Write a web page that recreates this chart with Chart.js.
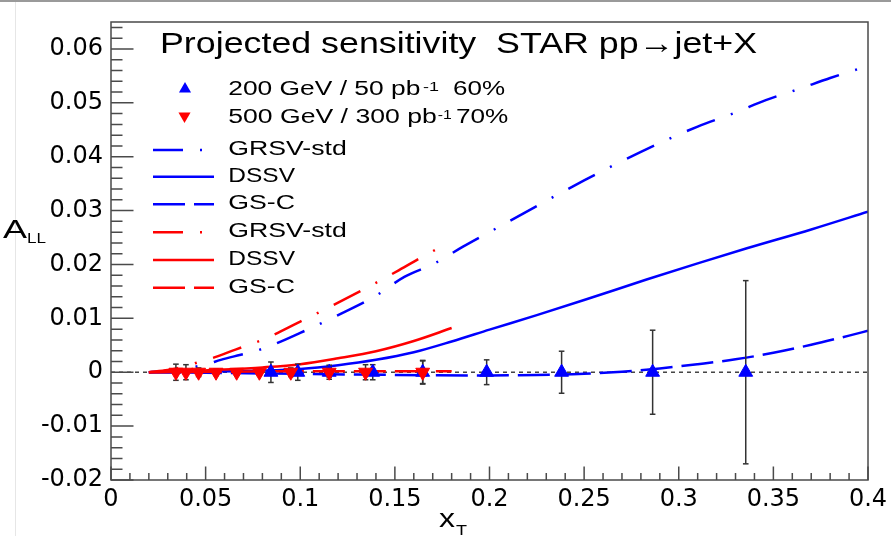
<!DOCTYPE html>
<html>
<head>
<meta charset="utf-8">
<script src="https://cdn.jsdelivr.net/npm/chart.js@4.4.1/dist/chart.umd.min.js"></script>
<style>
html,body{margin:0;padding:0;background:#fff;}
canvas{display:block;}
</style>
</head>
<body>
<canvas id="c" width="891" height="536"></canvas>
<script>
// ---------------- data ----------------
const titleText = 'Projected sensitivity  STAR pp\u2192jet+X';
const yTitleMain = 'A', yTitleSub = 'LL';
const xTitleMain = 'x', xTitleSub = 'T';

const xTickValues = [0, 0.05, 0.1, 0.15, 0.2, 0.25, 0.3, 0.35, 0.4];
const xTickLabels = ['0', '0.05', '0.1', '0.15', '0.2', '0.25', '0.3', '0.35', '0.4'];
const yTickValues = [-0.02, -0.01, 0, 0.01, 0.02, 0.03, 0.04, 0.05, 0.06];
const yTickLabels = ['-0.02', '-0.01', '0', '0.01', '0.02', '0.03', '0.04', '0.05', '0.06'];

// projected data points: 200 GeV / 50 pb^-1 (blue, up triangles)
const pts200X   = [0.0845, 0.0987, 0.1153, 0.1383, 0.1647, 0.1985, 0.2381, 0.2862, 0.3354];
const pts200Y   = [0, 0, 0, 0, 0, 0, 0, 0, 0];
const pts200Err = [0.0019, 0.0015, 0.0013, 0.0014, 0.0022, 0.0023, 0.0039, 0.0078, 0.0170];

// projected data points: 500 GeV / 300 pb^-1 (red, down triangles)
const pts500X   = [0.0343, 0.0396, 0.0463, 0.0555, 0.0664, 0.0784, 0.0950, 0.1153, 0.1345, 0.1647];
const pts500Y   = [0, 0, 0, 0, 0, 0, 0, 0, 0, 0];
const pts500Err = [0.0015, 0.0014, 0.0008, 0.0006, 0.0006, 0.0006, 0.0008, 0.0009, 0.0014, 0.0021];

// theory curves, 200 GeV (blue)
const grsvBlueX = [0.02, 0.03, 0.04, 0.05, 0.058, 0.068, 0.076, 0.085, 0.1, 0.12, 0.14, 0.155, 0.171, 0.186, 0.202, 0.218, 0.25, 0.28, 0.31, 0.33, 0.346, 0.363, 0.38, 0.397, 0.4];
const grsvBlueY = [0, 0.0003, 0.0008, 0.0014, 0.0023, 0.0032, 0.0039, 0.0050, 0.0073, 0.0106, 0.0142, 0.0177, 0.0202, 0.0233, 0.0264, 0.0295, 0.0356, 0.0409, 0.0456, 0.0482, 0.0505, 0.0525, 0.0546, 0.0565, 0.0568];
const dssvBlueX = [0.02, 0.05, 0.08, 0.1, 0.12, 0.14, 0.16, 0.18, 0.2, 0.225, 0.25, 0.283, 0.31, 0.336, 0.37, 0.4];
const dssvBlueY = [0, 0.0001, 0.0003, 0.0006, 0.0013, 0.0023, 0.0037, 0.0057, 0.0079, 0.0106, 0.0134, 0.0172, 0.0202, 0.0230, 0.0265, 0.0298];
const gscBlueX  = [0.02, 0.05, 0.1, 0.15, 0.2, 0.225, 0.25, 0.27, 0.29, 0.31, 0.33, 0.35, 0.37, 0.39, 0.4];
const gscBlueY  = [0, -0.0001, -0.0003, -0.0005, -0.0006, -0.0005, -0.0003, 0.0001, 0.0007, 0.0015, 0.0024, 0.0036, 0.0051, 0.0068, 0.0077];

// theory curves, 500 GeV (red)
const grsvRedX = [0.02, 0.03, 0.04, 0.0465, 0.055, 0.065, 0.072, 0.08, 0.1, 0.12, 0.14, 0.152, 0.166, 0.175];
const grsvRedY = [0, 0.0004, 0.0012, 0.0019, 0.0028, 0.0041, 0.0050, 0.0060, 0.0094, 0.0129, 0.0166, 0.0189, 0.0217, 0.0234];
const dssvRedX = [0.02, 0.04, 0.06, 0.08, 0.1, 0.12, 0.14, 0.16, 0.18];
const dssvRedY = [0, 0.0002, 0.0005, 0.0009, 0.0015, 0.0026, 0.0039, 0.0058, 0.0082];
const gscRedX  = [0.02, 0.06, 0.1, 0.14, 0.18];
const gscRedY  = [0, 0.0001, 0.0002, 0.0002, 0.0002];

const zeroLineX = [0, 0.4];
const zeroLineY = [0, 0];

const markerLegend = [
  {main: '200 GeV / 50 pb', sup: '-1', tail: '60%'},
  {main: '500 GeV / 300 pb', sup: '-1', tail: '70%'}
];
const curveLegendLabels = ['GRSV-std', 'DSSV', 'GS-C', 'GRSV-std', 'DSSV', 'GS-C'];

// ---------------- styles ----------------
const BLUE = '#0000ff', RED = '#ff0000', FRAME = '#4a4a4a', ERR = '#333333';
const DASHDOT = [30, 17, 2, 17];
const DASHED = [32, 9];
const SOLID = [];
const LW = 2.5;
const TXT = '"Liberation Sans", Arial, Helvetica, sans-serif';

const zip = (xs, ys) => xs.map((x, i) => ({x: x, y: ys[i]}));
function errData(xs, ys, es) {
  const out = [];
  xs.forEach((x, i) => {
    out.push({x: x, y: ys[i] - es[i]}, {x: x, y: ys[i] + es[i]}, {x: x, y: null});
  });
  return out;
}
function curve(label, xs, ys, color, dash, order) {
  return {
    label: label, data: zip(xs, ys), borderColor: color, backgroundColor: color,
    borderWidth: LW, borderDash: dash, pointRadius: 0, fill: false,
    cubicInterpolationMode: 'monotone', order: order
  };
}

const datasets = [
  { label: '500 GeV / 300 pb-1 70%', data: zip(pts500X, pts500Y), showLine: false,
    pointStyle: 'triangle', rotation: 180, pointRadius: 8, pointBackgroundColor: RED,
    pointBorderColor: RED, pointBorderWidth: 1, order: 0 },
  { label: '200 GeV / 50 pb-1 60%', data: zip(pts200X, pts200Y), showLine: false,
    pointStyle: 'triangle', pointRadius: 8, pointBackgroundColor: BLUE,
    pointBorderColor: BLUE, pointBorderWidth: 1, order: 1 },
  { label: 'err500', data: errData(pts500X, pts500Y, pts500Err), borderColor: ERR, borderWidth: 1.5,
    spanGaps: false, pointStyle: 'line', pointRadius: 2.8, pointBorderColor: ERR, pointBorderWidth: 1.5, order: 2 },
  { label: 'err200', data: errData(pts200X, pts200Y, pts200Err), borderColor: ERR, borderWidth: 1.5,
    spanGaps: false, pointStyle: 'line', pointRadius: 2.8, pointBorderColor: ERR, pointBorderWidth: 1.5, order: 3 },
  curve('GRSV-std (500)', grsvRedX, grsvRedY, RED, DASHDOT, 4),
  curve('DSSV (500)', dssvRedX, dssvRedY, RED, SOLID, 5),
  curve('GS-C (500)', gscRedX, gscRedY, RED, DASHED, 6),
  curve('GRSV-std (200)', grsvBlueX, grsvBlueY, BLUE, DASHDOT, 7),
  curve('DSSV (200)', dssvBlueX, dssvBlueY, BLUE, SOLID, 8),
  curve('GS-C (200)', gscBlueX, gscBlueY, BLUE, DASHED, 9),
  { label: 'zero', data: zip(zeroLineX, zeroLineY), borderColor: '#444444', borderWidth: 1.5,
    borderDash: [4, 4], pointRadius: 0, order: 10 }
];
// legend order of the curve datasets (indices into datasets)
const curveLegendIdx = [7, 8, 9, 4, 5, 6];

// ---------------- drawing helpers ----------------
function fitText(ctx, txt, x, y, size, width) {
  ctx.save();
  ctx.font = size + 'px ' + TXT;
  ctx.textBaseline = 'alphabetic';
  ctx.textAlign = 'left';
  const w = ctx.measureText(txt).width;
  const sx = width ? width / w : 1;
  ctx.translate(x, y);
  ctx.scale(sx, 1);
  ctx.fillStyle = '#000';
  ctx.fillText(txt, 0, 0);
  ctx.restore();
}
function tri(ctx, x, y, r, color, down) {
  ctx.save();
  ctx.fillStyle = color;
  ctx.beginPath();
  const s = down ? -1 : 1;
  ctx.moveTo(x, y - s * r);
  ctx.lineTo(x + r * 0.866, y + s * r * 0.5);
  ctx.lineTo(x - r * 0.866, y + s * r * 0.5);
  ctx.closePath();
  ctx.fill();
  ctx.restore();
}

const framePlugin = {
  id: 'frame',
  beforeDraw(chart) {
    const ctx = chart.ctx;
    ctx.save();
    ctx.fillStyle = '#fff';
    ctx.fillRect(0, 0, chart.width, chart.height);
    ctx.strokeStyle = '#9a9a9a';
    ctx.lineWidth = 2;
    ctx.beginPath(); ctx.moveTo(0, 1); ctx.lineTo(chart.width, 1); ctx.stroke();
    ctx.strokeStyle = '#e6e6e6';
    ctx.lineWidth = 1;
    ctx.beginPath(); ctx.moveTo(15.5, 2); ctx.lineTo(15.5, chart.height); ctx.stroke();
    ctx.restore();
  },
  afterDraw(chart) {
    const ctx = chart.ctx, a = chart.chartArea;
    const sx = chart.scales.x, sy = chart.scales.y;
    ctx.save();
    ctx.strokeStyle = FRAME;
    ctx.lineWidth = 1.5;
    ctx.strokeRect(a.left, a.top, a.right - a.left, a.bottom - a.top);
    ctx.beginPath();
    for (let i = 0; i <= 40; i++) {
      const px = sx.getPixelForValue(i * 0.01);
      const len = (i % 5 === 0) ? 13.5 : 7;
      ctx.moveTo(px, a.bottom); ctx.lineTo(px, a.bottom - len);
    }
    for (let i = 0; i <= 42; i++) {
      const v = -0.02 + i * 0.002;
      if (v > sy.max + 1e-9) break;
      const py = sy.getPixelForValue(v);
      const len = (i % 5 === 0) ? 22.5 : 11.5;
      ctx.moveTo(a.left, py); ctx.lineTo(a.left + len, py);
    }
    ctx.stroke();
    ctx.restore();

    // title
    fitText(ctx, titleText, 160, 53.3, 30, 597);

    // marker legend
    tri(ctx, 185, 89, 7, BLUE, false);
    tri(ctx, 184.5, 116, 7, RED, true);
    const mRows = [
      {y: 95, mainW: 192, supX: 423, supW: 16, tailX: 453, tailW: 52},
      {y: 123.3, mainW: 208.4, supX: 437.7, supW: 14, tailX: 456, tailW: 52.3}
    ];
    markerLegend.forEach((m, i) => {
      const r = mRows[i];
      fitText(ctx, m.main, 228.3, r.y, 20, r.mainW);
      fitText(ctx, m.sup, r.supX, r.y - 4.5, 13, r.supW);
      fitText(ctx, m.tail, r.tailX, r.y, 20, r.tailW);
    });

    // curve legend
    const lineYs = [150, 176.7, 204.3, 232.3, 260, 287.7];
    const textWs = [118.4, 66.7, 66.7, 118.4, 66.7, 66.7];
    curveLegendIdx.forEach((di, i) => {
      const ds = chart.data.datasets[di];
      ctx.save();
      ctx.strokeStyle = ds.borderColor;
      ctx.lineWidth = LW;
      ctx.setLineDash(ds.borderDash || []);
      ctx.beginPath();
      ctx.moveTo(153, lineYs[i]); ctx.lineTo(214, lineYs[i]);
      ctx.stroke();
      ctx.restore();
      fitText(ctx, curveLegendLabels[i], 228.3, lineYs[i] + 5, 20, textWs[i]);
    });

    // axis titles
    fitText(ctx, yTitleMain, 3, 238, 25, 24);
    fitText(ctx, yTitleSub, 27, 243, 14, 19);
    fitText(ctx, xTitleMain, 439, 527, 25, 16);
    fitText(ctx, xTitleSub, 456, 535, 15, 11);
  }
};

function tickLabel(values, labels) {
  return function (v) {
    const i = values.findIndex(t => Math.abs(t - v) < 1e-9);
    return i >= 0 ? labels[i] : '';
  };
}

new Chart(document.getElementById('c'), {
  type: 'line',
  data: { datasets: datasets },
  plugins: [framePlugin],
  options: {
    responsive: false,
    animation: false,
    events: [],
    layout: { padding: { left: 0, right: 23, top: 22, bottom: 0 } },
    plugins: { legend: { display: false }, tooltip: { enabled: false }, title: { display: false } },
    scales: {
      x: {
        type: 'linear', min: 0, max: 0.4,
        afterBuildTicks: s => { s.ticks = xTickValues.map(v => ({value: v})); },
        afterFit: s => { s.height = 56; s.paddingLeft = 0; s.paddingRight = 0; },
        grid: { display: false, drawTicks: false },
        border: { display: false },
        ticks: {
          callback: tickLabel(xTickValues, xTickLabels),
          font: { family: '"DejaVu Sans", sans-serif', size: 24 },
          color: '#000', padding: 5, maxRotation: 0, autoSkip: false
        }
      },
      y: {
        type: 'linear', min: -0.02, max: 0.065,
        afterBuildTicks: s => { s.ticks = yTickValues.map(v => ({value: v})); },
        afterFit: s => { s.width = 111; s.paddingTop = 0; s.paddingBottom = 0; },
        grid: { display: false, drawTicks: false },
        border: { display: false },
        ticks: {
          callback: tickLabel(yTickValues, yTickLabels),
          font: { family: '"DejaVu Sans", sans-serif', size: 24 },
          color: '#000', padding: 8, autoSkip: false
        }
      }
    }
  }
});
</script>
</body>
</html>
